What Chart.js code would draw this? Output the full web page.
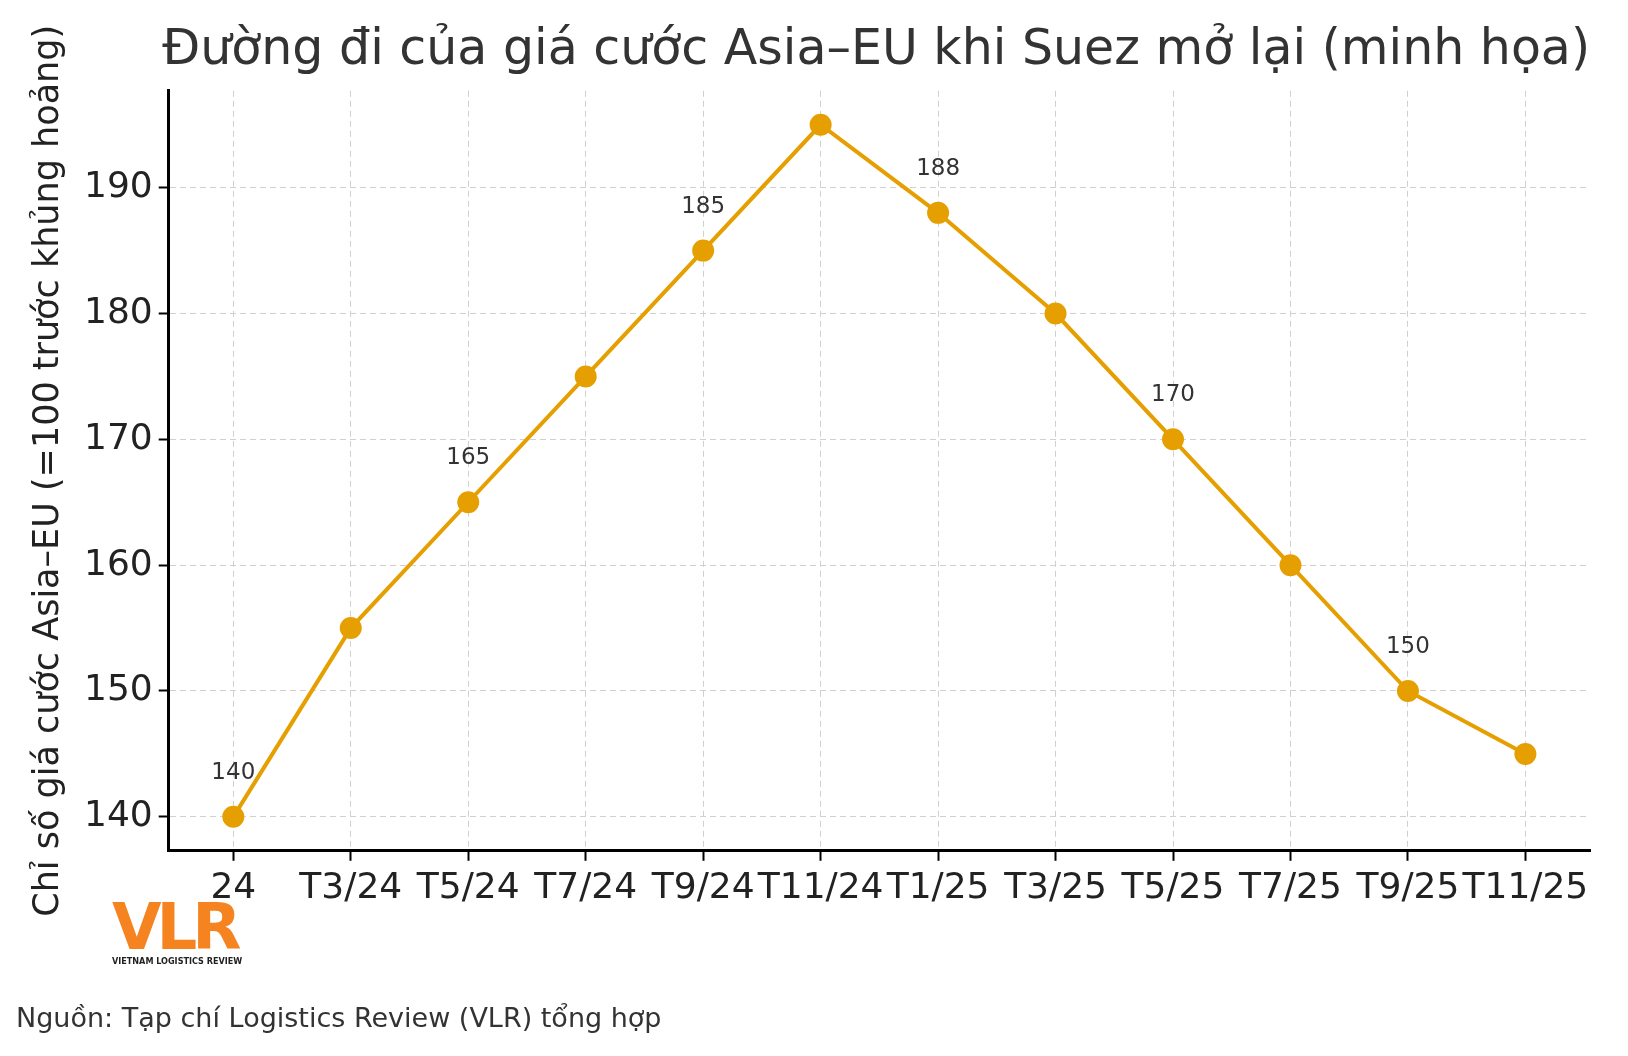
<!DOCTYPE html>
<html><head><meta charset="utf-8">
<script src="https://cdn.jsdelivr.net/npm/chart.js@4"></script>
<style>
body{margin:0;background:#fff;font-family:"DejaVu Sans",sans-serif;}
#wrap{position:absolute;left:0;top:0;width:1628px;height:1056px;}
#logo{position:absolute;left:112px;top:898px;color:#f5831f;font-weight:bold;}
#logo .b{font-size:64px;line-height:58px;letter-spacing:-5px;font-family:"DejaVu Sans";}
#logo .s{font-size:9px;color:#222;font-family:"Liberation Sans Narrow","DejaVu Sans Condensed";}
#src{position:absolute;left:16px;top:1002px;font-size:27px;color:#333;}
</style></head><body>
<div id="wrap"><canvas id="c" width="1628" height="1056"></canvas></div>
<div id="logo"><div class="b">VLR</div><div class="s">VIETNAM LOGISTICS REVIEW</div></div>
<div id="src">Nguồn: Tạp chí Logistics Review (VLR) tổng hợp</div>
<script>
const months = ['24','T3/24','T5/24','T7/24','T9/24','T11/24','T1/25','T3/25','T5/25','T7/25','T9/25','T11/25'];
const values = [140,155,165,175,185,195,188,180,170,160,150,145];
const annotated = [0,2,4,6,8,10];

const pointLabels = {
  id: 'pointLabels',
  afterDatasetsDraw(chart) {
    const ctx = chart.ctx;
    const meta = chart.getDatasetMeta(0);
    ctx.save();
    ctx.font = '23px "DejaVu Sans"';
    ctx.fillStyle = '#333';
    ctx.textAlign = 'center';
    annotated.forEach(i => {
      const p = meta.data[i];
      ctx.fillText(String(values[i]), p.x, p.y - 38);
    });
    ctx.restore();
  }
};

new Chart(document.getElementById('c').getContext('2d'), {
  type: 'line',
  data: {
    datasets: [{
      data: values.map((v, i) => ({x: i, y: v})),
      borderColor: '#E69F00',
      backgroundColor: '#E69F00',
      borderWidth: 4,
      pointRadius: 9,
      pointHoverRadius: 9,
      tension: 0
    }]
  },
  options: {
    responsive: false,
    animation: false,
    layout: {padding: {left: 20, right: 38, top: 0, bottom: 140}},
    plugins: {
      legend: {display: false},
      tooltip: {enabled: false},
      title: {
        display: true,
        text: 'Đường đi của giá cước Asia–EU khi Suez mở lại (minh họa)',
        font: {size: 49, family: 'DejaVu Sans', weight: 'normal'},
        color: '#333',
        align: 'end',
        padding: {top: 22, bottom: 10}
      }
    },
    scales: {
      x: {
        type: 'linear',
        min: -0.55, max: 11.55,
        afterBuildTicks: s => { s.ticks = months.map((m, i) => ({value: i})); },
        ticks: {
          callback: v => months[v],
          font: {size: 36, family: 'DejaVu Sans'},
          color: '#222',
          maxRotation: 0, autoSkip: false, padding: 6
        },
        grid: {color: '#d0d0d0', lineWidth: 1, tickColor: '#000', tickLength: 10, tickWidth: 2},
        border: {color: '#000', width: 3, dash: [6, 4]}
      },
      y: {
        min: 137.3, max: 197.7,
        afterBuildTicks: s => { s.ticks = [140,150,160,170,180,190].map(v => ({value: v})); },
        ticks: {font: {size: 36, family: 'DejaVu Sans'}, color: '#222', padding: 6},
        title: {
          display: true,
          text: 'Chỉ số giá cước Asia–EU (=100 trước khủng hoảng)',
          font: {size: 35, family: 'DejaVu Sans'},
          color: '#222', padding: 8
        },
        grid: {color: '#d0d0d0', lineWidth: 1, tickColor: '#000', tickLength: 10, tickWidth: 2},
        border: {color: '#000', width: 3, dash: [6, 4]}
      }
    }
  },
  plugins: [pointLabels]
});
</script>
</body></html>
